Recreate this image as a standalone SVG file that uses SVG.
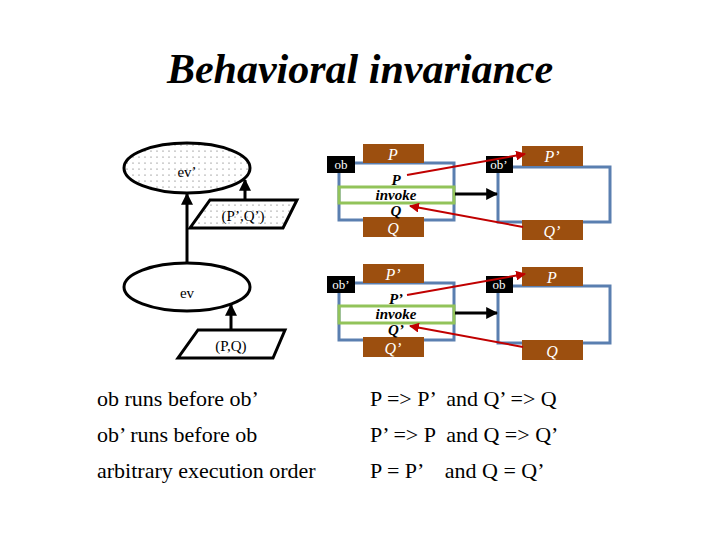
<svg xmlns="http://www.w3.org/2000/svg" width="720" height="540" viewBox="0 0 720 540">
<defs>
<pattern id="dots" width="6" height="6" patternUnits="userSpaceOnUse"><rect width="6" height="6" fill="#fff"/><circle cx="1" cy="1" r="0.6" fill="#555"/></pattern>
<marker id="ab" viewBox="0 0 10 10" refX="9" refY="5" markerWidth="4" markerHeight="4" orient="auto"><path d="M0,0L10,5L0,10z" fill="#000"/></marker>
<marker id="ar" viewBox="0 0 10 10" refX="9" refY="5" markerWidth="5" markerHeight="5" orient="auto"><path d="M0,0L10,5L0,10z" fill="#c00000"/></marker>
</defs>
<style>
text{font-family:"Liberation Serif",serif}
.shape{stroke:#000;stroke-width:3}
.blue{fill:none;stroke:#5a7fb0;stroke-width:3}
.brown{fill:#9c4f0f}
.bt{fill:#fff;font-style:italic;font-size:16px;text-anchor:middle}
.lab{fill:#000}
.lt{fill:#fff;font-size:13px;text-anchor:middle}
.grn{fill:none;stroke:#92c35a;stroke-width:3}
.inv{font-weight:bold;font-style:italic;font-size:15px;text-anchor:middle}
.bl{font-size:22px}
</style>
<rect width="720" height="540" fill="#fff"/>
<text x="360" y="83" font-size="42" font-weight="bold" font-style="italic" text-anchor="middle">Behavioral invariance</text>

<g id="ev2"><ellipse cx="187" cy="168" rx="63" ry="25" fill="url(#dots)" class="shape"/><text x="187" y="177" font-size="15" text-anchor="middle">ev’</text></g>
<g id="ev"><ellipse cx="187" cy="287" rx="63" ry="24" fill="#fff" class="shape"/><text x="187" y="298" font-size="15" text-anchor="middle">ev</text></g>
<g id="pq2"><polygon points="210,200 297,200 283,228 190,228" fill="url(#dots)" class="shape"/><text x="243" y="221" font-size="15" text-anchor="middle">(P’,Q’)</text></g>
<g id="pq"><polygon points="198,330 285,330 273,358 178,358" fill="#fff" class="shape"/><text x="231" y="351" font-size="15" text-anchor="middle">(P,Q)</text></g>

<g id="box1">
<rect x="339" y="163" width="115" height="57" class="blue"/>
<rect x="363" y="144" width="61" height="19" class="brown"/><text x="393" y="160" class="bt">P</text>
<rect x="363" y="217" width="61" height="20" class="brown"/><text x="393" y="234" class="bt">Q</text>
<rect x="327" y="156" width="28" height="17" class="lab"/><text x="341" y="169" class="lt">ob</text>
<text x="396" y="185" class="inv" font-size="14">P</text>
<rect x="339" y="187" width="115" height="16" fill="#fff" class="grn"/><text x="396" y="200" class="inv">invoke</text>
<text x="396" y="216" class="inv" font-size="14">Q</text>
</g>
<g id="box2">
<rect x="498" y="167" width="112" height="55" fill="url(#dots)" class="blue"/>
<rect x="522" y="146" width="61" height="20" class="brown"/><text x="552" y="162" class="bt">P’</text>
<rect x="522" y="220" width="61" height="20" class="brown"/><text x="552" y="237" class="bt">Q’</text>
<rect x="486" y="156" width="27" height="17" class="lab"/><text x="499" y="169" class="lt">ob’</text>
</g>
<g id="box3">
<rect x="339" y="283" width="115" height="57" fill="url(#dots)" class="blue"/>
<rect x="363" y="264" width="61" height="19" class="brown"/><text x="393" y="280" class="bt">P’</text>
<rect x="363" y="337" width="61" height="20" class="brown"/><text x="393" y="354" class="bt">Q’</text>
<rect x="327" y="276" width="28" height="17" class="lab"/><text x="341" y="289" class="lt">ob’</text>
<text x="396" y="304" class="inv" font-size="14">P’</text>
<rect x="339" y="306" width="115" height="17" fill="url(#dots)" class="grn"/><text x="396" y="319" class="inv">invoke</text>
<text x="396" y="335" class="inv" font-size="14">Q’</text>
</g>
<g id="box4">
<rect x="498" y="286" width="112" height="57" class="blue"/>
<rect x="522" y="267" width="61" height="19" class="brown"/><text x="552" y="283" class="bt">P</text>
<rect x="522" y="340" width="61" height="20" class="brown"/><text x="552" y="357" class="bt">Q</text>
<rect x="486" y="276" width="27" height="17" class="lab"/><text x="499" y="289" class="lt">ob</text>
</g>

<g id="connectors" fill="none">
<line x1="187" y1="263" x2="187" y2="194" stroke="#000" stroke-width="3" marker-end="url(#ab)"/>
<line x1="245" y1="200" x2="245" y2="180" stroke="#000" stroke-width="3" marker-end="url(#ab)"/>
<line x1="231" y1="330" x2="231" y2="305" stroke="#000" stroke-width="3" marker-end="url(#ab)"/>
<line x1="455" y1="194" x2="497" y2="194" stroke="#000" stroke-width="3" marker-end="url(#ab)"/>
<line x1="455" y1="313" x2="497" y2="313" stroke="#000" stroke-width="3" marker-end="url(#ab)"/>
<line x1="407" y1="175" x2="525" y2="154" stroke="#c00000" stroke-width="2" marker-end="url(#ar)"/>
<line x1="523" y1="227" x2="410" y2="206" stroke="#c00000" stroke-width="2" marker-end="url(#ar)"/>
<line x1="407" y1="295" x2="525" y2="274" stroke="#c00000" stroke-width="2" marker-end="url(#ar)"/>
<line x1="523" y1="347" x2="410" y2="326" stroke="#c00000" stroke-width="2" marker-end="url(#ar)"/>
</g>

<text x="97" y="406" class="bl">ob runs before ob’</text>
<text x="97" y="442" class="bl">ob’ runs before ob</text>
<text x="97" y="478" class="bl">arbitrary execution order</text>
<text x="370" y="406" class="bl" xml:space="preserve">P =&gt; P’  and Q’ =&gt; Q</text>
<text x="370" y="442" class="bl" xml:space="preserve">P’ =&gt; P  and Q =&gt; Q’</text>
<text x="370" y="478" class="bl" xml:space="preserve">P = P’    and Q = Q’</text>
</svg>
